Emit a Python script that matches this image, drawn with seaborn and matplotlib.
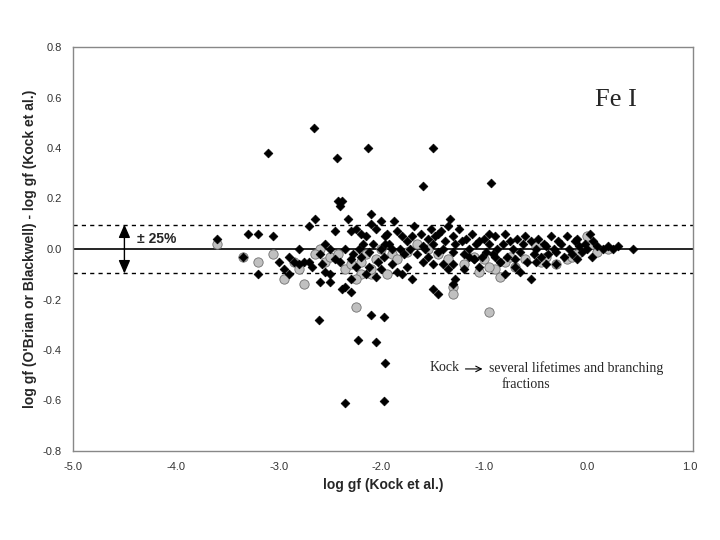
import matplotlib
matplotlib.use("Agg")
import matplotlib.pyplot as plt
import seaborn as sns
import pandas as pd

# Black diamonds: O'Brian/Blackwell vs Kock
bx = [-3.6,-3.3,-3.2,-3.2,-3.1,-3.05,-3.0,-2.95,-2.9,-2.85,-2.8,-2.75,-2.7,-2.68,-2.65,-2.6,-2.58,-2.55,-2.5,-2.5,
      -2.45,-2.42,-2.4,-2.4,-2.38,-2.35,-2.33,-2.3,-2.3,-2.28,-2.25,-2.22,-2.2,-2.2,-2.18,-2.15,-2.12,-2.1,-2.1,-2.08,
      -2.05,-2.03,-2.0,-2.0,-1.98,-1.97,-1.97,-1.95,-1.93,-1.9,-1.88,-1.85,-1.82,-1.8,-1.78,-1.75,-1.72,-1.7,-1.68,-1.65,
      -1.62,-1.6,-1.58,-1.55,-1.55,-1.52,-1.5,-1.48,-1.45,-1.45,-1.42,-1.4,-1.38,-1.35,-1.33,-1.3,-1.3,-1.28,-1.25,-1.22,
      -1.2,-1.18,-1.15,-1.12,-1.1,-1.08,-1.05,-1.02,-1.0,-0.98,-0.95,-0.95,-0.92,-0.9,-0.88,-0.85,-0.82,-0.8,-0.78,-0.75,
      -0.72,-0.7,-0.68,-0.65,-0.62,-0.6,-0.58,-0.55,-0.52,-0.5,-0.48,-0.45,-0.42,-0.4,-0.38,-0.35,-0.32,-0.3,-0.28,-0.25,
      -0.22,-0.2,-0.18,-0.15,-0.12,-0.1,-0.08,-0.05,-0.02,0.0,0.03,0.06,0.1,0.15,0.2,0.25,0.3,0.45,
      -2.66,-2.43,-2.13,-1.5,-1.6,-0.93,-2.35,-1.98,-1.97,-2.23,-2.05,-2.61,-2.1,-1.98,-1.45,-1.3,-2.5,-2.3,-2.05,-1.7,
      -1.5,-1.2,-0.8,-0.55,-2.8,-3.35,-2.9,-2.6,-2.38,-2.3,-2.12,-1.85,-1.75,-1.35,-1.3,-1.28,-1.05,-0.85,-0.65,-0.4,
      -2.45,-2.25,-2.15,-1.9,-1.6,-1.4,-1.1,-0.9,-0.7,-0.5,-0.3,-0.1,0.05,-2.7,-2.55,-2.35,-2.0,-1.8,-1.5,-1.15]
by = [0.04,0.06,0.06,-0.1,0.38,0.05,-0.05,-0.08,-0.03,-0.05,0.0,-0.05,0.09,-0.07,0.12,-0.02,-0.06,0.02,0.0,-0.1,
      0.07,0.19,0.17,-0.05,0.19,0.0,0.12,-0.04,0.07,-0.02,0.08,0.0,0.06,-0.03,0.02,0.05,-0.01,0.14,0.1,0.02,
      0.08,-0.05,0.11,0.0,-0.03,0.05,0.02,0.06,0.02,0.0,0.11,0.07,0.0,0.05,-0.02,0.03,0.0,0.05,0.09,-0.02,
      0.06,0.01,0.0,0.04,-0.03,0.08,0.02,0.05,-0.01,0.06,0.07,0.0,0.03,0.09,0.12,0.05,-0.01,0.02,0.08,0.03,
      -0.02,0.04,0.0,0.06,-0.04,0.02,0.03,-0.03,0.04,-0.01,0.02,0.06,-0.02,0.05,0.0,-0.05,0.02,0.06,-0.03,0.03,
      0.0,-0.04,0.04,-0.01,0.02,0.05,-0.05,0.03,-0.02,0.0,0.04,-0.03,0.02,0.01,-0.02,0.05,0.0,-0.01,0.03,0.02,
      -0.03,0.05,0.0,-0.02,0.03,0.04,0.01,-0.01,0.02,0.0,0.06,0.03,0.01,0.0,0.01,0.0,0.01,0.0,
      0.48,0.36,0.40,0.40,0.25,0.26,-0.61,-0.60,-0.45,-0.36,-0.37,-0.28,-0.26,-0.27,-0.18,-0.14,-0.13,-0.17,-0.11,-0.12,
      -0.16,-0.08,-0.10,-0.12,-0.06,-0.03,-0.1,-0.13,-0.16,-0.12,-0.07,-0.09,-0.07,-0.08,-0.06,-0.12,-0.07,-0.05,-0.09,-0.06,
      -0.04,-0.07,-0.1,-0.06,-0.05,-0.06,-0.04,-0.03,-0.07,-0.05,-0.06,-0.04,-0.03,-0.05,-0.09,-0.15,-0.08,-0.1,-0.06,-0.03]

# Grey circles: Kock several lifetimes and branching fractions
gx = [-3.6,-3.35,-3.2,-3.05,-2.95,-2.85,-2.75,-2.6,-2.55,-2.5,-2.42,-2.35,-2.3,-2.25,-2.2,-2.15,-2.1,-2.05,-2.0,-1.9,
      -1.85,-1.75,-1.65,-1.55,-1.45,-1.35,-1.3,-1.2,-1.1,-1.0,-0.95,-0.9,-0.8,-0.7,-0.6,-0.5,-0.4,-0.3,-0.2,-0.1,
      0.0,0.05,0.1,-2.25,-2.2,-2.1,-1.95,-1.3,-1.05,-0.95,-0.85,-0.75,-0.45,-0.15,0.2,-2.8,-2.65]
gy = [0.02,-0.03,-0.05,-0.02,-0.12,-0.05,-0.14,0.0,-0.05,-0.03,-0.02,-0.08,-0.06,-0.23,-0.1,-0.02,-0.1,-0.04,0.0,-0.02,
      -0.04,-0.01,0.02,0.0,-0.02,-0.04,-0.15,-0.06,-0.03,-0.04,-0.25,-0.08,-0.05,-0.07,-0.04,0.01,-0.03,-0.06,-0.04,-0.02,
      0.05,0.02,-0.01,-0.12,-0.05,-0.08,-0.1,-0.18,-0.09,-0.07,-0.11,-0.03,-0.05,-0.03,0.0,-0.08,-0.02]

df_b = pd.DataFrame({"x": bx, "y": by})
df_g = pd.DataFrame({"x": gx, "y": gy})

sns.set_style("white")
plt.rcParams['font.family'] = ['Liberation Sans', 'DejaVu Sans']
fig = plt.figure(figsize=(7.2, 5.4), dpi=100)
ax = fig.add_axes([73/720, 1-451/540, (693-73)/720, (451-47)/540])

sns.scatterplot(data=df_g, x="x", y="y", ax=ax, marker="o", s=45, color="#c0c0c0",
                edgecolor="#707070", linewidth=0.6, zorder=3)
sns.scatterplot(data=df_b, x="x", y="y", ax=ax, marker="D", s=20, color="black",
                edgecolor="black", linewidth=0.5, zorder=4)

ax.axhline(0, color="black", lw=1.2, zorder=2)
ax.axhline(0.097, color="black", lw=1, ls=(0, (3, 3)), zorder=2)
ax.axhline(-0.097, color="black", lw=1, ls=(0, (3, 3)), zorder=2)
ax.annotate("", xy=(-4.5, 0.097), xytext=(-4.5, 0.0),
            arrowprops=dict(arrowstyle="-|>,head_length=0.8,head_width=0.35", color="black", lw=1, shrinkA=0, shrinkB=0))
ax.annotate("", xy=(-4.5, -0.097), xytext=(-4.5, 0.0),
            arrowprops=dict(arrowstyle="-|>,head_length=0.8,head_width=0.35", color="black", lw=1, shrinkA=0, shrinkB=0))
ax.text(-4.38, 0.04, "± 25%", fontsize=10, fontweight="bold", va="center")

ax.set_xlim(-5, 1.03)
ax.set_ylim(-0.8, 0.8)
ax.set_xticks([-5, -4, -3, -2, -1, 0, 1])
ax.set_xticklabels(["-5.0", "-4.0", "-3.0", "-2.0", "-1.0", "0.0", "1.0"])
ax.set_yticks([-0.8, -0.6, -0.4, -0.2, 0.0, 0.2, 0.4, 0.6, 0.8])
ax.set_yticklabels(["-0.8", "-0.6", "-0.4", "-0.2", "0.0", "0.2", "0.4", "0.6", "0.8"])
ax.tick_params(labelsize=8, colors="#333333", length=0, pad=8)
for sp in ax.spines.values():
    sp.set_color("#888888")
    sp.set_linewidth(1)
ax.set_xlabel("log gf (Kock et al.)", fontsize=10, fontweight="bold")
ax.set_ylabel("log gf (O'Brian or Blackwell) - log gf (Kock et al.)", fontsize=10, fontweight="bold")

ax.text(0.28, 0.565, "Fe I", fontsize=19, family=["Liberation Serif"], ha="center")
ax.text(-1.53, -0.47, "Kock", fontsize=10, family=["Liberation Serif"], va="center")
ax.annotate("", xy=(-0.99, -0.475), xytext=(-1.21, -0.475),
            arrowprops=dict(arrowstyle="->", color="black", lw=0.8))
ax.text(-0.95, -0.47, "several lifetimes and branching", fontsize=10, family=["Liberation Serif"], va="center")
ax.text(-0.83, -0.535, "fractions", fontsize=10, family=["Liberation Serif"], va="center")

fig.savefig("out.png", dpi=100)
